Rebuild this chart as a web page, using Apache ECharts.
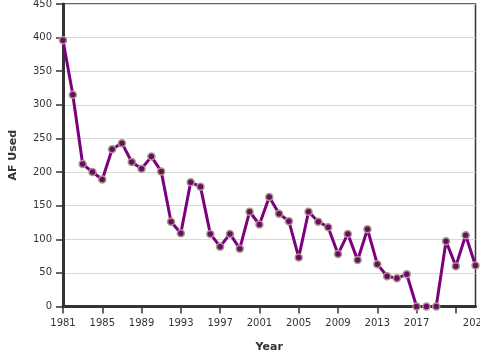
<!DOCTYPE html>
<html>
<head>
<meta charset="utf-8">
<script src="https://cdn.jsdelivr.net/npm/echarts@6/dist/echarts.min.js"></script>
<style>html,body{margin:0;padding:0;background:#fff}#c{width:480px;height:360px}</style>
</head>
<body>
<div id="c"></div>
<script>
const years = [1981,1982,1983,1984,1985,1986,1987,1988,1989,1990,1991,1992,1993,1994,1995,1996,1997,1998,1999,2000,2001,2002,2003,2004,2005,2006,2007,2008,2009,2010,2011,2012,2013,2014,2015,2016,2017,2018,2019,2020,2021,2022,2023];
const afUsed = [396,315,212,200,189,234,243,215,205,223,201,126,109,185,178,108,89,108,86,141,122,163,138,127,73,141,126,118,78,108,69,115,63,45,42,48,0,0,0,97,60,106,61];
const xTickValues = [1981,1985,1989,1993,1997,2001,2005,2009,2013,2017,2021];
const xLabelValues = [1981,1985,1989,1993,1997,2001,2005,2009,2013,2017,2023];
const yMin = 0, yMax = 450, yStep = 50;

const chart = echarts.init(document.getElementById('c'), null, {renderer:'canvas'});
const font = 'DejaVu Sans';
chart.setOption({
  animation:false,
  grid:{left:63, right:4.5, top:4, bottom:53.5, outerBoundsMode:'none', containLabel:false, show:true, borderColor:'#333', borderWidth:1.5, backgroundColor:'transparent'},
  xAxis:{
    type:'value', min:1981, max:2023,
    name:'Year', nameLocation:'middle', nameGap:35,
    nameTextStyle:{fontFamily:font, fontSize:11, fontWeight:'bold', color:'#333'},
    axisLine:{show:true, lineStyle:{color:'#333', width:3}},
    axisTick:{show:true, length:7, lineStyle:{color:'#333', width:1.5}, customValues:xTickValues},
    axisLabel:{fontFamily:font, fontSize:10, color:'#333', margin:12, customValues:xLabelValues, hideOverlap:false, formatter:v=>String(v)},
    splitLine:{show:false}
  },
  yAxis:{
    type:'value', min:yMin, max:yMax, interval:yStep,
    name:'AF Used', nameLocation:'middle', nameGap:44, nameRotate:90,
    nameTextStyle:{fontFamily:font, fontSize:11, fontWeight:'bold', color:'#333'},
    axisLine:{show:true, lineStyle:{color:'#333', width:3}},
    axisTick:{show:true, length:7, lineStyle:{color:'#333', width:1.5}},
    axisLabel:{fontFamily:font, fontSize:10, color:'#333', margin:11},
    splitLine:{show:true, lineStyle:{color:'#d8d8d8', width:1}}
  },
  series:[{
    type:'line',
    data: years.map((y,i)=>[y, afUsed[i]]),
    lineStyle:{color:'#7d0080', width:3},
    symbol:'circle', symbolSize:7,
    itemStyle:{color:'#6a0a6a', borderColor:'#a89a80', borderWidth:1.5},
    clip:false
  }]
});
</script>
</body>
</html>
